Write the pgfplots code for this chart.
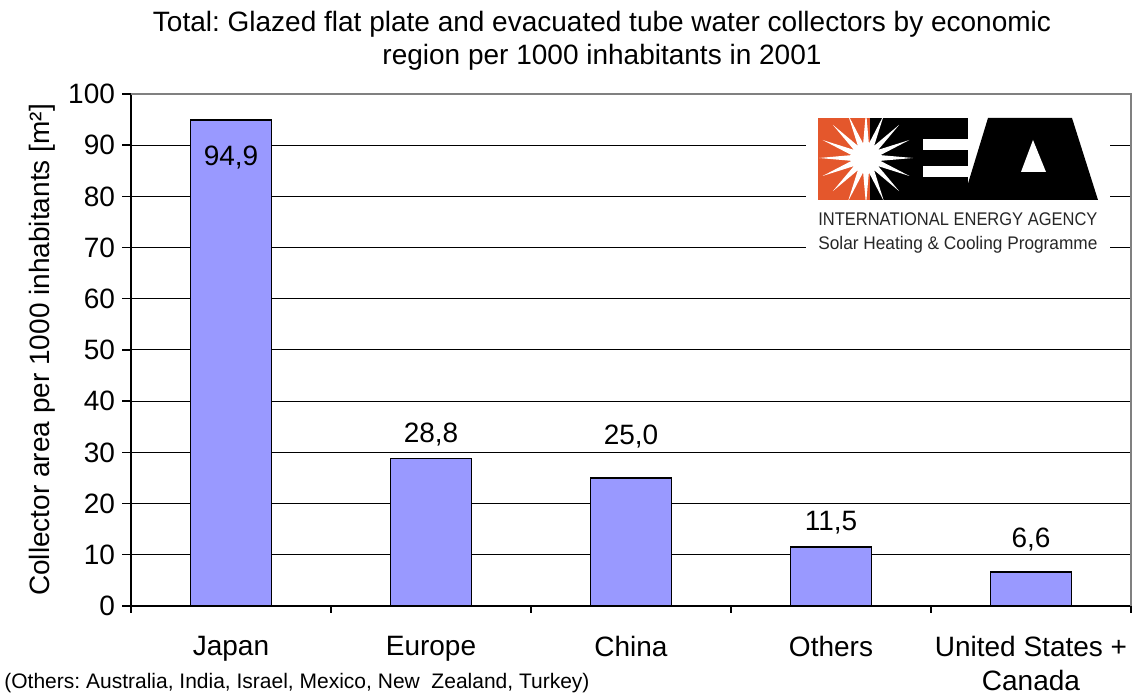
\documentclass[border=0pt]{standalone}
\usepackage{fontspec}
\setmainfont{Liberation Sans}
\usepackage{graphicx}
\usepackage{pgfplots}
\pgfplotsset{compat=1.18}
\usepackage{pgfplotstable}
\usetikzlibrary{shapes.geometric}

\definecolor{barblue}{HTML}{9999FF}
\definecolor{ieaorange}{HTML}{E4572C}
\definecolor{framegray}{HTML}{808080}

% x, value, baseline of the value label
\pgfplotstableread{
x y ly
0 94.9 86.1
1 28.8 32.0
2 25.0 31.6
3 11.5 14.8
4 6.6 11.5
}\regiondata

\newcommand{\fs}{\fontsize{14}{17}\selectfont}

\begin{document}
\frenchspacing
\begin{tikzpicture}
\useasboundingbox (0,0) rectangle (566pt,347pt);
\begin{axis}[
    at={(65.5pt,44pt)}, anchor=south west,
    scale only axis,
    width=500pt, height=256pt,
    xmin=-0.5, xmax=4.5,
    ymin=0, ymax=100,
    ytick={0,10,...,100},
    xtick={0,1,2,3,4},
    xticklabels={Japan, Europe, China, Others, {United States +\\Canada}},
    minor xtick={-0.5,0.5,...,4.5},
    major x tick style={draw=none},
    axis x line*=bottom,
    axis y line*=left,
    axis line style={line width=0.7pt, black},
    tick align=outside,
    major tick length=4.5pt,
    minor tick length=3.5pt,
    tick style={line width=0.7pt, black},
    ymajorgrids,
    major grid style={line width=0.5pt, black},
    /pgf/number format/assume math mode=true,
    yticklabel style={font=\fs},
    xticklabel style={font=\fs, align=center, yshift=-7pt},
    ylabel={Collector area per 1000 inhabitants [m²]},
    every axis y label/.style={at={([xshift=-40.5pt]rel axis cs:0,0.5)}, rotate=90, anchor=base, font=\fs},
    clip=false,
]
\addplot[ybar, bar width=0.405, fill=barblue, draw=black, line width=0.9pt]
    table[x=x, y=y] {\regiondata};
\addplot[draw=none, mark=none, point meta=explicit,
    nodes near coords={\pgfmathprintnumber[use comma,fixed,fixed zerofill,precision=1]{\pgfplotspointmeta}},
    every node near coord/.style={anchor=base, inner sep=0pt, font=\fs, black}]
    table[x=x, y=ly, meta=y] {\regiondata};
\draw[framegray, line width=0.7pt] (rel axis cs:0,1) -- (rel axis cs:1,1) -- (rel axis cs:1,0);
\end{axis}

% title, footnote and logo, in pixel coordinates of the reference
\begin{scope}[x=0.5pt, y=-0.5pt, shift={(0pt,347pt)}]
\node[anchor=base, inner sep=0pt, font=\fs] at (602,32) {Total: Glazed flat plate and evacuated tube water collectors by economic};
\node[anchor=base, inner sep=0pt, font=\fs] at (602,65) {region per 1000 inhabitants in 2001};
\node[anchor=base west, inner sep=0pt, font=\fontsize{10.5}{12}\selectfont] at (4,689) {(Others: Australia, India, Israel, Mexico, New\ \ Zealand, Turkey)};

\fill[white] (806,104) rectangle (1110,264);
\fill[ieaorange] (818,118) rectangle (870,200);
\fill[black] (870,118) rectangle (968,200);
\fill[white] (923,139) rectangle (968,150);
\fill[white] (923,166) rectangle (968,177);
\begin{scope}
\clip (818,118) rectangle (968,200);
\node[star, star points=16, star point ratio=3.2, minimum size=47pt, inner sep=0pt, fill=white] at (866,158) {};
\end{scope}
\fill[black] (963,200) -- (988,118) -- (1072,118) -- (1098,200) -- cycle;
\fill[white] (1033,140) -- (1021,172) -- (1046,172) -- cycle;
\node[anchor=base west, inner sep=0pt, text=black!85] at (818,226)
    {\resizebox{139.5pt}{6.4pt}{INTERNATIONAL ENERGY AGENCY}};
\node[anchor=base west, inner sep=0pt, text=black!85] at (818,250)
    {\resizebox{139.5pt}{6.6pt}{Solar Heating \& Cooling Programme}};
\end{scope}
\end{tikzpicture}
\end{document}
